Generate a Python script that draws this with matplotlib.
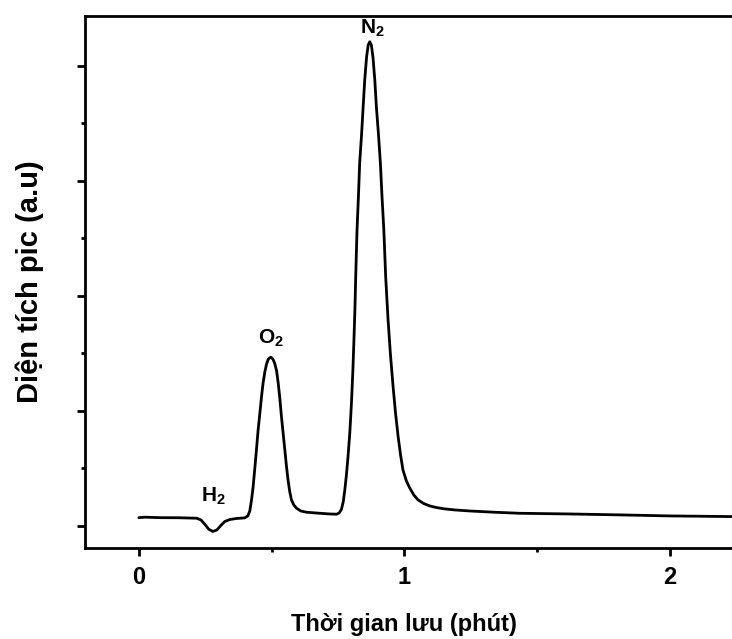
import numpy as np
import matplotlib
matplotlib.use('Agg')
import matplotlib.pyplot as plt

plt.rcParams['font.family'] = ['Liberation Sans', 'DejaVu Sans']
plt.rcParams['font.weight'] = 'bold'
plt.rcParams['mathtext.fontset'] = 'custom'
plt.rcParams['mathtext.rm'] = 'Liberation Sans:bold'
plt.rcParams['mathtext.bf'] = 'Liberation Sans:bold'

# chromatogram (time in minutes, signal in a.u.)
time_min = [0.000, 0.023, 0.079, 0.154, 0.218, 0.234, 0.249, 0.264, 0.279,
            0.294, 0.309, 0.324, 0.343, 0.369, 0.399, 0.4105, 0.418, 0.4245,
            0.4305, 0.437, 0.443, 0.449, 0.456, 0.462, 0.468, 0.4746, 0.481,
            0.488, 0.497, 0.505, 0.512, 0.519, 0.525, 0.531, 0.537, 0.5435,
            0.550, 0.556, 0.562, 0.5687, 0.575, 0.584, 0.594, 0.610, 0.632,
            0.682, 0.719, 0.745, 0.755, 0.763, 0.770, 0.776, 0.782, 0.788,
            0.795, 0.801, 0.806, 0.810, 0.814, 0.817, 0.822, 0.8275, 0.832,
            0.839, 0.845, 0.851, 0.858, 0.864, 0.870, 0.876, 0.882, 0.889,
            0.895, 0.903, 0.910, 0.916, 0.923, 0.930, 0.939, 0.948, 0.958,
            0.967, 0.977, 0.986, 0.995, 1.008, 1.021, 1.036, 1.052, 1.073,
            1.096, 1.119, 1.146, 1.190, 1.247, 1.341, 1.435, 1.623, 1.812,
            2.000, 2.249]
signal = [0.072, 0.076, 0.072, 0.071, 0.067, 0.052, 0.013, -0.030, -0.048,
          -0.035, 0.004, 0.039, 0.056, 0.065, 0.070, 0.087, 0.130, 0.226,
          0.339, 0.504, 0.660, 0.825, 0.982, 1.121, 1.242, 1.338, 1.407,
          1.451, 1.466, 1.451, 1.412, 1.347, 1.242, 1.112, 0.956, 0.808,
          0.660, 0.521, 0.400, 0.295, 0.226, 0.182, 0.154, 0.130, 0.119,
          0.110, 0.104, 0.102, 0.113, 0.143, 0.209, 0.313, 0.443, 0.599,
          0.817, 1.069, 1.329, 1.590, 1.877, 2.163, 2.572, 2.876, 3.154,
          3.397, 3.640, 3.875, 4.075, 4.179, 4.208, 4.179, 4.075, 3.875,
          3.640, 3.397, 3.154, 2.867, 2.572, 2.163, 1.790, 1.486, 1.208,
          0.982, 0.773, 0.617, 0.487, 0.391, 0.328, 0.269, 0.226, 0.195,
          0.174, 0.161, 0.150, 0.139, 0.130, 0.119, 0.110, 0.104, 0.096,
          0.087, 0.081]

peak_names = [r'$\mathbf{H_2}$', r'$\mathbf{O_2}$', r'$\mathbf{N_2}$']
peak_label_x = [0.279, 0.497, 0.878]
peak_label_y = [0.26, 1.633, 4.327]

x_ticks = [0, 1, 2]
x_minor = [0.5, 1.5]
y_ticks = [0, 1, 2, 3, 4]
y_minor = [0.5, 1.5, 2.5, 3.5]

fig = plt.figure(figsize=(7.32, 6.39), dpi=100)
ax = fig.add_axes([0.1161, 0.1429, 0.8894, 0.8325])

ax.plot(time_min, signal, color='black', linewidth=2.0,
        solid_joinstyle='round', solid_capstyle='round')

for name, lx, ly in zip(peak_names, peak_label_x, peak_label_y):
    ax.text(lx, ly, name, ha='center', va='center', fontsize=15)

ax.set_xlim(-0.203, 2.25)
ax.set_ylim(-0.189, 4.434)

ax.set_xticks(x_ticks)
ax.set_xticks(x_minor, minor=True)
ax.set_xticklabels([str(t) for t in x_ticks], fontsize=17, fontweight='bold')
ax.set_yticks(y_ticks)
ax.set_yticks(y_minor, minor=True)
ax.set_yticklabels([])

ax.tick_params(which='major', direction='out', length=6, width=2.0, pad=7)
ax.tick_params(which='minor', direction='out', length=3, width=2.0)

for side in ['left', 'bottom', 'top', 'right']:
    ax.spines[side].set_linewidth(2.0)

ax.set_xlabel('Thời gian lưu (phút)', fontsize=17, fontweight='bold', va='center')
ax.xaxis.set_label_coords(0.49, -0.145)
ax.set_ylabel('Diện tích pic (a.u)', fontsize=21, fontweight='bold', va='center')
ax.yaxis.set_label_coords(-0.085, 0.5)

fig.savefig('out.png', dpi=100)
